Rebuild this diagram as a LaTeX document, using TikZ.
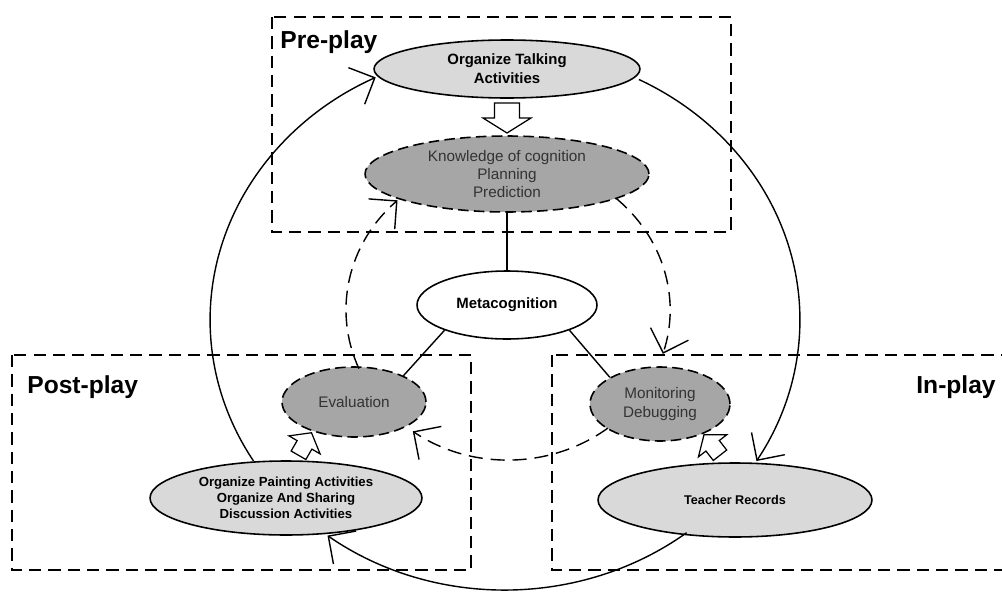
\documentclass[tikz,border=0pt]{standalone}
\usepackage{fontspec}
\setmainfont{Liberation Sans}
\usetikzlibrary{shapes.geometric,arrows.meta}
\definecolor{actgrey}{HTML}{D9D9D9}
\definecolor{metagrey}{HTML}{A6A6A6}
\definecolor{softblack}{HTML}{333333}
\tikzset{
  stage/.style={line width=1.1pt, dash pattern=on 7pt off 4pt},
  stagename/.style={font=\bfseries\fontsize{14}{16}\selectfont, inner sep=0pt},
  act/.style={ellipse, draw, line width=0.9pt, fill=actgrey, align=center, inner sep=0pt,
    font=\bfseries\fontsize{7.5}{9.2}\selectfont},
  skill/.style={ellipse, draw, line width=0.9pt, dash pattern=on 6pt off 3pt, fill=metagrey,
    text=softblack, align=center, inner sep=0pt, font=\fontsize{8.7}{10.4}\selectfont},
  fat/.style={draw, line width=0.7pt, fill=white, line join=miter},
  outerflow/.style={line width=0.8pt, -{Straight Barb[length=4mm,width=8mm]}},
  innerflow/.style={outerflow, dash pattern=on 8pt off 4.5pt},
}
\begin{document}
\begin{tikzpicture}[x=0.02cm, y=0.02cm]
\useasboundingbox (0,0) rectangle (1002,-592);
% the three stages
\draw[stage] (272,-17) rectangle (731,-232);
\draw[stage] (12,-355) rectangle (471,-570);
\draw[stage] (552,-355) rectangle (1012,-570);
\node[stagename, anchor=west] (pre) at (280,-42) {Pre-play};
\node[stagename, anchor=west] (post) at (27,-387) {Post-play};
\node[stagename, anchor=east] (in) at (996,-387) {In-play};

% activities and skills
\node[act, minimum width=5.32cm, minimum height=1.16cm,
  font=\bfseries\fontsize{8.5}{10.8}\selectfont] (talk) at (507,-69) {Organize Talking\\Activities};
\node[skill, minimum width=5.68cm, minimum height=1.52cm] (know) at (507,-174)
  {Knowledge of cognition\\Planning\\Prediction};
\node[ellipse, draw, line width=0.9pt, fill=white, inner sep=0pt, minimum width=3.6cm,
  minimum height=1.36cm, font=\bfseries\fontsize{8.5}{10}\selectfont] (metacog) at (507,-305) {Metacognition};
\node[skill, minimum width=2.88cm, minimum height=1.4cm] (evalu) at (354,-402) {Evaluation};
\node[skill, minimum width=2.8cm, minimum height=1.48cm] (monit) at (660,-404) {Monitoring\\Debugging};
\node[act, minimum width=5.44cm, minimum height=1.48cm] (paint) at (286,-498)
  {Organize Painting Activities\\Organize And Sharing\\Discussion Activities};
\node[act, minimum width=5.48cm, minimum height=1.48cm,
  font=\bfseries\fontsize{7.2}{9}\selectfont] (teach) at (735,-500) {Teacher Records};

% hollow block arrows
\draw[fat, shift={(507,-118)}, rotate=-90]
  (-15,-12.5) -- (0,-12.5) -- (0,-24) -- (15,0) -- (0,24) -- (0,12.5) -- (-15,12.5) -- cycle;
\draw[fat, shift={(305,-444)}, rotate=60]
  (-13,-8.5) -- (-1,-8.5) -- (-1,-18) -- (13,0) -- (-1,18) -- (-1,8.5) -- (-13,8.5) -- cycle;
\draw[fat, shift={(712,-445)}, rotate=128]
  (-13,-8.5) -- (-1,-8.5) -- (-1,-18) -- (13,0) -- (-1,18) -- (-1,8.5) -- (-13,8.5) -- cycle;

\draw[line width=0.8pt] (know) -- (metacog);
\draw[line width=0.8pt] (metacog.202) -- (evalu.28);
\draw[line width=0.8pt] (metacog.338) -- (monit.152);

% outer cycle
\coordinate (ring) at (505,-320);
\draw[outerflow] (ring) ++(63:5.9cm and 5.4cm) arc[start angle=63, end angle=-31.5, x radius=5.9cm, y radius=5.4cm];
\draw[outerflow] (ring) ++(-52:5.9cm and 5.4cm) arc[start angle=-52, end angle=-127, x radius=5.9cm, y radius=5.4cm];
\draw[outerflow] (ring) ++(211.5:5.9cm and 5.4cm) arc[start angle=211.5, end angle=116, x radius=5.9cm, y radius=5.4cm];

% inner cycle
\coordinate (hub) at (508,-310);
\draw[innerflow] (hub) ++(48:3.24cm and 3cm) arc[start angle=48, end angle=-17, x radius=3.24cm, y radius=3cm];
\draw[innerflow] (hub) ++(-52:3.24cm and 3cm) arc[start angle=-52, end angle=-126, x radius=3.24cm, y radius=3cm];
\draw[innerflow] (hub) ++(203:3.24cm and 3cm) arc[start angle=203, end angle=133, x radius=3.24cm, y radius=3cm];
\end{tikzpicture}
\end{document}
